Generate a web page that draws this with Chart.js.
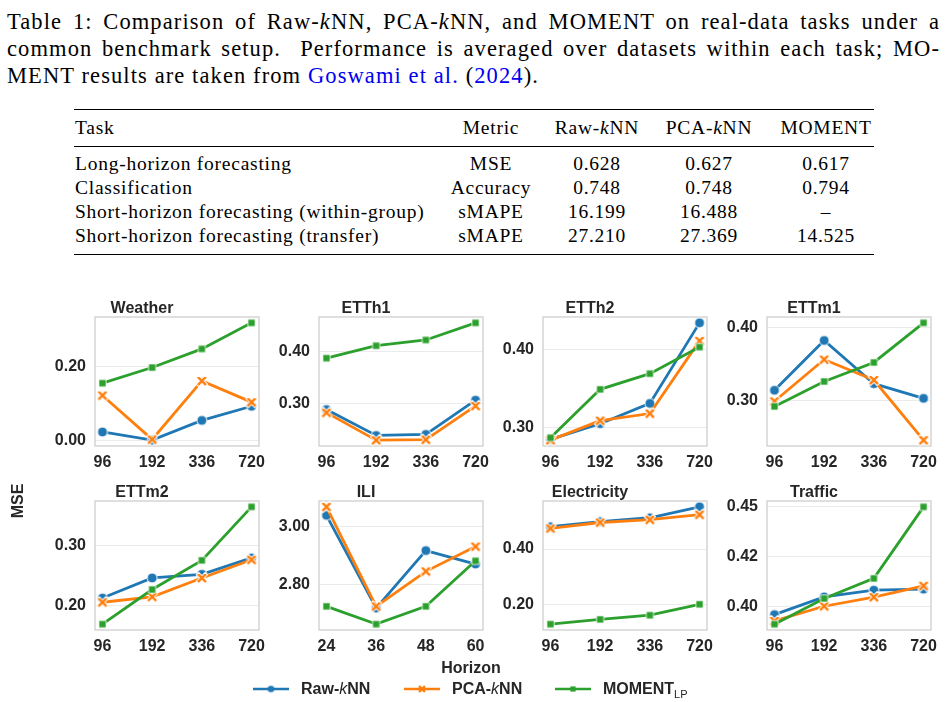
<!DOCTYPE html>
<html>
<head>
<meta charset="utf-8">
<script src="https://cdn.jsdelivr.net/npm/chart.js@4.4.0/dist/chart.umd.min.js"></script>
<style>
html,body{margin:0;padding:0;background:#fff;}
body{width:948px;height:702px;overflow:hidden;position:relative;}
.serif{font-family:'Liberation Serif','Times New Roman',serif;color:#000;}
.cl{position:absolute;left:7px;width:933px;font-size:22.5px;line-height:27px;height:27px;letter-spacing:1.1px;}
.j{text-align:justify;text-align-last:justify;}
.cite{color:#0000ee;}
.rule{position:absolute;left:74px;width:800px;background:#000;}
.cell{position:absolute;font-size:19.5px;line-height:24px;height:24px;white-space:nowrap;letter-spacing:0.75px;}
.c{text-align:center;width:140px;margin-left:-70px;}
.sans{font-family:'Liberation Sans',Arial,sans-serif;font-weight:bold;color:#262626;font-size:16px;}
.panel{position:absolute;}
.lg{position:absolute;top:680px;height:18px;line-height:18px;white-space:nowrap;}
.sub{font-weight:normal;font-size:11px;position:relative;top:4px;}
</style>
</head>
<body>
<div class="serif">
  <div class="cl j" style="top:8px">Table 1: Comparison of Raw-<i>k</i>NN, PCA-<i>k</i>NN, and MOMENT on real-data tasks under a</div>
  <div class="cl j" style="top:35px">common benchmark setup.&nbsp; Performance is averaged over datasets within each task; MO-</div>
  <div class="cl" style="top:62px">MENT results are taken from <span class="cite">Goswami et al.</span> (<span class="cite">2024</span>).</div>

  <div class="rule" style="top:109px;height:1.4px"></div>
  <div class="rule" style="top:146px;height:0.9px"></div>
  <div class="rule" style="top:253.5px;height:1.4px"></div>
  <div id="table"></div>
</div>

<div id="panels"></div>

<div class="sans" style="position:absolute;left:0;top:0;width:36px;height:36px;line-height:36px;text-align:center;transform-origin:center;transform:translate(0px,483px) rotate(-90deg);">MSE</div>
<div class="sans" style="position:absolute;left:371px;width:200px;text-align:center;top:658px;line-height:20px;">Horizon</div>

<div id="legend" class="sans"></div>

<script>
// ---------------- table data ----------------
const tableHeader = ['Task', 'Metric', 'Raw-<i>k</i>NN', 'PCA-<i>k</i>NN', 'MOMENT'];
const tableTasks = ['Long-horizon forecasting', 'Classification', 'Short-horizon forecasting (within-group)', 'Short-horizon forecasting (transfer)'];
const tableMetrics = ['MSE', 'Accuracy', 'sMAPE', 'sMAPE'];
const tableRaw = ['0.628', '0.748', '16.199', '27.210'];
const tablePca = ['0.627', '0.748', '16.488', '27.369'];
const tableMoment = ['0.617', '0.794', '–', '14.525'];

// ---------------- chart data ----------------
const horizonLong = ['96', '192', '336', '720'];
const horizonILI = ['24', '36', '48', '60'];

const weatherRaw = [0.024, 0.002, 0.055, 0.093];
const weatherPca = [0.122, 0.004, 0.161, 0.104];
const weatherMoment = [0.155, 0.197, 0.247, 0.317];
const weatherTicks = [0.00, 0.20];
const weatherTickLabels = ['0.00', '0.20'];

const etth1Raw = [0.288, 0.238, 0.240, 0.306];
const etth1Pca = [0.282, 0.229, 0.230, 0.295];
const etth1Moment = [0.387, 0.411, 0.422, 0.455];
const etth1Ticks = [0.30, 0.40];
const etth1TickLabels = ['0.30', '0.40'];

const etth2Raw = [0.285, 0.305, 0.331, 0.434];
const etth2Pca = [0.284, 0.309, 0.318, 0.411];
const etth2Moment = [0.287, 0.349, 0.369, 0.403];
const etth2Ticks = [0.30, 0.40];
const etth2TickLabels = ['0.30', '0.40'];

const ettm1Raw = [0.314, 0.382, 0.323, 0.303];
const ettm1Pca = [0.299, 0.356, 0.328, 0.246];
const ettm1Moment = [0.292, 0.326, 0.352, 0.406];
const ettm1Ticks = [0.30, 0.40];
const ettm1TickLabels = ['0.30', '0.40'];

const ettm2Raw = [0.213, 0.246, 0.252, 0.279];
const ettm2Pca = [0.206, 0.215, 0.246, 0.276];
const ettm2Moment = [0.170, 0.227, 0.275, 0.363];
const ettm2Ticks = [0.20, 0.30];
const ettm2TickLabels = ['0.20', '0.30'];

const iliRaw = [3.038, 2.720, 2.917, 2.871];
const iliPca = [3.067, 2.726, 2.846, 2.931];
const iliMoment = [2.726, 2.665, 2.726, 2.882];
const iliTicks = [2.80, 3.00];
const iliTickLabels = ['2.80', '3.00'];

const electricityRaw = [0.480, 0.498, 0.512, 0.551];
const electricityPca = [0.474, 0.495, 0.505, 0.523];
const electricityMoment = [0.131, 0.148, 0.163, 0.202];
const electricityTicks = [0.20, 0.40];
const electricityTickLabels = ['0.20', '0.40'];

const trafficRaw = [0.3958, 0.4047, 0.4081, 0.4086];
const trafficPca = [0.3926, 0.4000, 0.4046, 0.4103];
const trafficMoment = [0.3910, 0.4039, 0.4140, 0.4500];
const trafficTicks = [0.400, 0.425, 0.450];
const trafficTickLabels = ['0.40', '0.42', '0.45'];

const seriesNames = ['Raw-kNN', 'PCA-kNN', 'MOMENT_LP'];

// ---------------- table layout ----------------
(function buildTable(){
  const t = document.getElementById('table');
  const colX = [75, 491, 597, 709, 826];
  const rowTop = [115.5, 151.5, 175.5, 199.5, 223.5];
  const rows = [tableHeader];
  for (let i = 0; i < tableTasks.length; i++) rows.push([tableTasks[i], tableMetrics[i], tableRaw[i], tablePca[i], tableMoment[i]]);
  rows.forEach((r, ri) => {
    r.forEach((txt, ci) => {
      const d = document.createElement('div');
      d.className = 'cell' + (ci > 0 ? ' c' : '');
      d.style.left = colX[ci] + 'px';
      d.style.top = rowTop[ri] + 'px';
      d.innerHTML = txt;
      t.appendChild(d);
    });
  });
})();

// ---------------- markers ----------------
const BLUE = '#1f77b4', ORANGE = '#ff7f0e', GREEN = '#2ca02c';
function circleMarker(r, lw){
  const s = Math.ceil(2*r + 2*lw + 2); const c = document.createElement('canvas'); c.width = s; c.height = s;
  const g = c.getContext('2d'); g.beginPath(); g.arc(s/2, s/2, r, 0, Math.PI*2);
  g.fillStyle = BLUE; g.fill(); if (lw > 0){ g.lineWidth = lw; g.strokeStyle = '#fff'; g.stroke(); }
  return c;
}
function xMarker(a, w, lw){
  const s = Math.ceil(2*(a+w)/Math.SQRT2 + 2*lw + 4); const c = document.createElement('canvas'); c.width = s; c.height = s;
  const g = c.getContext('2d'); g.translate(s/2, s/2); g.rotate(Math.PI/4);
  g.beginPath();
  g.moveTo(-w,-a); g.lineTo(w,-a); g.lineTo(w,-w); g.lineTo(a,-w); g.lineTo(a,w); g.lineTo(w,w);
  g.lineTo(w,a); g.lineTo(-w,a); g.lineTo(-w,w); g.lineTo(-a,w); g.lineTo(-a,-w); g.lineTo(-w,-w); g.closePath();
  g.fillStyle = ORANGE; g.fill(); if (lw > 0){ g.lineWidth = lw; g.strokeStyle = '#fff'; g.lineJoin = 'miter'; g.stroke(); }
  return c;
}
function squareMarker(h, lw){
  const s = Math.ceil(2*h + 2*lw + 2); const c = document.createElement('canvas'); c.width = s; c.height = s;
  const g = c.getContext('2d'); g.beginPath(); g.rect(s/2-h, s/2-h, 2*h, 2*h);
  g.fillStyle = GREEN; g.fill(); if (lw > 0){ g.lineWidth = lw; g.strokeStyle = '#fff'; g.stroke(); }
  return c;
}
const mCircle = circleMarker(5, 1);
const mX = xMarker(6.2, 1.7, 1);
const mSquare = squareMarker(3.6, 0.8);

// ---------------- panels ----------------
const FONT = "'Liberation Sans', Arial, sans-serif";
const TXT = '#262626';
const panels = [
  {title:'Weather', x:horizonLong, raw:weatherRaw, pca:weatherPca, mom:weatherMoment, ticks:weatherTicks, labels:weatherTickLabels},
  {title:'ETTh1', x:horizonLong, raw:etth1Raw, pca:etth1Pca, mom:etth1Moment, ticks:etth1Ticks, labels:etth1TickLabels},
  {title:'ETTh2', x:horizonLong, raw:etth2Raw, pca:etth2Pca, mom:etth2Moment, ticks:etth2Ticks, labels:etth2TickLabels},
  {title:'ETTm1', x:horizonLong, raw:ettm1Raw, pca:ettm1Pca, mom:ettm1Moment, ticks:ettm1Ticks, labels:ettm1TickLabels},
  {title:'ETTm2', x:horizonLong, raw:ettm2Raw, pca:ettm2Pca, mom:ettm2Moment, ticks:ettm2Ticks, labels:ettm2TickLabels},
  {title:'ILI', x:horizonILI, raw:iliRaw, pca:iliPca, mom:iliMoment, ticks:iliTicks, labels:iliTickLabels},
  {title:'Electricity', x:horizonLong, raw:electricityRaw, pca:electricityPca, mom:electricityMoment, ticks:electricityTicks, labels:electricityTickLabels},
  {title:'Traffic', x:horizonLong, raw:trafficRaw, pca:trafficPca, mom:trafficMoment, ticks:trafficTicks, labels:trafficTickLabels}
];

const frameLeft = [95, 319, 543, 767];
const frameTop = [317, 501];
const FW = 164, FH = 129;
const YW = 70, PADR = 10, TITLEH = 24, XH = 30;

const framePlugin = {
  id: 'frame',
  beforeDatasetsDraw(chart){
    const a = chart.chartArea, g = chart.ctx;
    g.save(); g.strokeStyle = '#cccccc'; g.lineWidth = 1.25;
    g.strokeRect(a.left, a.top, a.right - a.left, a.bottom - a.top);
    g.restore();
  }
};

function ds(label, vals, color, marker, order){
  return {
    label: label,
    data: vals.map((v, i) => ({x: i, y: v})),
    borderColor: color, backgroundColor: color, borderWidth: 2.8,
    pointStyle: marker, pointRadius: 5, pointHoverRadius: 5,
    tension: 0, clip: false, order: order
  };
}

const host = document.getElementById('panels');
panels.forEach((p, k) => {
  const col = k % 4, row = Math.floor(k / 4);
  const div = document.createElement('div'); div.className = 'panel';
  const W = YW + FW + PADR, H = TITLEH + FH + XH;
  div.style.left = (frameLeft[col] - YW) + 'px';
  div.style.top = (frameTop[row] - TITLEH) + 'px';
  div.style.width = W + 'px'; div.style.height = H + 'px';
  const cv = document.createElement('canvas'); cv.width = W; cv.height = H;
  cv.style.width = W + 'px'; cv.style.height = H + 'px';
  div.appendChild(cv); host.appendChild(div);

  const all = p.raw.concat(p.pca, p.mom);
  const lo = Math.min(...all), hi = Math.max(...all), m = (hi - lo) * 0.05;
  const xm = (p.x.length - 1) * 0.05;

  new Chart(cv, {
    type: 'line',
    data: { datasets: [
      ds(seriesNames[0], p.raw, BLUE, mCircle, 3),
      ds(seriesNames[1], p.pca, ORANGE, mX, 2),
      ds(seriesNames[2], p.mom, GREEN, mSquare, 1)
    ]},
    options: {
      responsive: false, animation: false, devicePixelRatio: 1,
      layout: { padding: { left: 0, right: PADR, top: 0, bottom: 0 } },
      events: [],
      plugins: {
        legend: { display: false }, tooltip: { enabled: false },
        title: { display: true, text: p.title, color: TXT,
          font: { family: FONT, size: 16, weight: 'bold', lineHeight: 1.25 },
          padding: { top: 6, bottom: -2 } }
      },
      scales: {
        x: {
          type: 'linear', min: -xm, max: (p.x.length - 1) + xm,
          afterBuildTicks: ax => { ax.ticks = p.x.map((_, i) => ({ value: i })); },
          afterFit: ax => { ax.height = XH; ax.paddingLeft = 0; ax.paddingRight = 0; },
          ticks: { callback: v => p.x[v], color: TXT, font: { family: FONT, size: 16, weight: 'bold' },
                   padding: 7, maxRotation: 0, autoSkip: false },
          grid: { display: false, drawTicks: false }, border: { display: false }
        },
        y: {
          type: 'linear', min: lo - m, max: hi + m,
          afterBuildTicks: ax => { ax.ticks = p.ticks.map(v => ({ value: v })); },
          afterFit: ax => { ax.width = YW; ax.paddingTop = 0; ax.paddingBottom = 0; },
          ticks: { callback: (v, i) => p.labels[i], color: TXT, font: { family: FONT, size: 16, weight: 'bold' },
                   padding: 9, autoSkip: false },
          grid: { color: '#ebebeb', lineWidth: 1, drawTicks: false }, border: { display: false }
        }
      }
    },
    plugins: [framePlugin]
  });
});

// ---------------- legend ----------------
(function buildLegend(){
  const lg = document.getElementById('legend');
  const items = [
    {color: BLUE, marker: circleMarker(3.3, 0), hx: 253, tx: 301, html: 'Raw-<i style="font-weight:normal">k</i>NN'},
    {color: ORANGE, marker: xMarker(4.2, 1.2, 0), hx: 404, tx: 452, html: 'PCA-<i style="font-weight:normal">k</i>NN'},
    {color: GREEN, marker: squareMarker(2.6, 0), hx: 555, tx: 603, html: 'MOMENT<span class="sub">LP</span>'}
  ];
  items.forEach(it => {
    const c = document.createElement('canvas'); c.width = 36; c.height = 14;
    c.style.position = 'absolute'; c.style.left = it.hx + 'px'; c.style.top = '682px';
    const g = c.getContext('2d');
    g.strokeStyle = it.color; g.lineWidth = 2.6; g.beginPath(); g.moveTo(0, 7); g.lineTo(36, 7); g.stroke();
    g.drawImage(it.marker, 18 - it.marker.width/2, 7 - it.marker.height/2);
    lg.appendChild(c);
    const t = document.createElement('div'); t.className = 'lg'; t.style.left = it.tx + 'px';
    t.innerHTML = it.html; lg.appendChild(t);
  });
})();
</script>
</body>
</html>
